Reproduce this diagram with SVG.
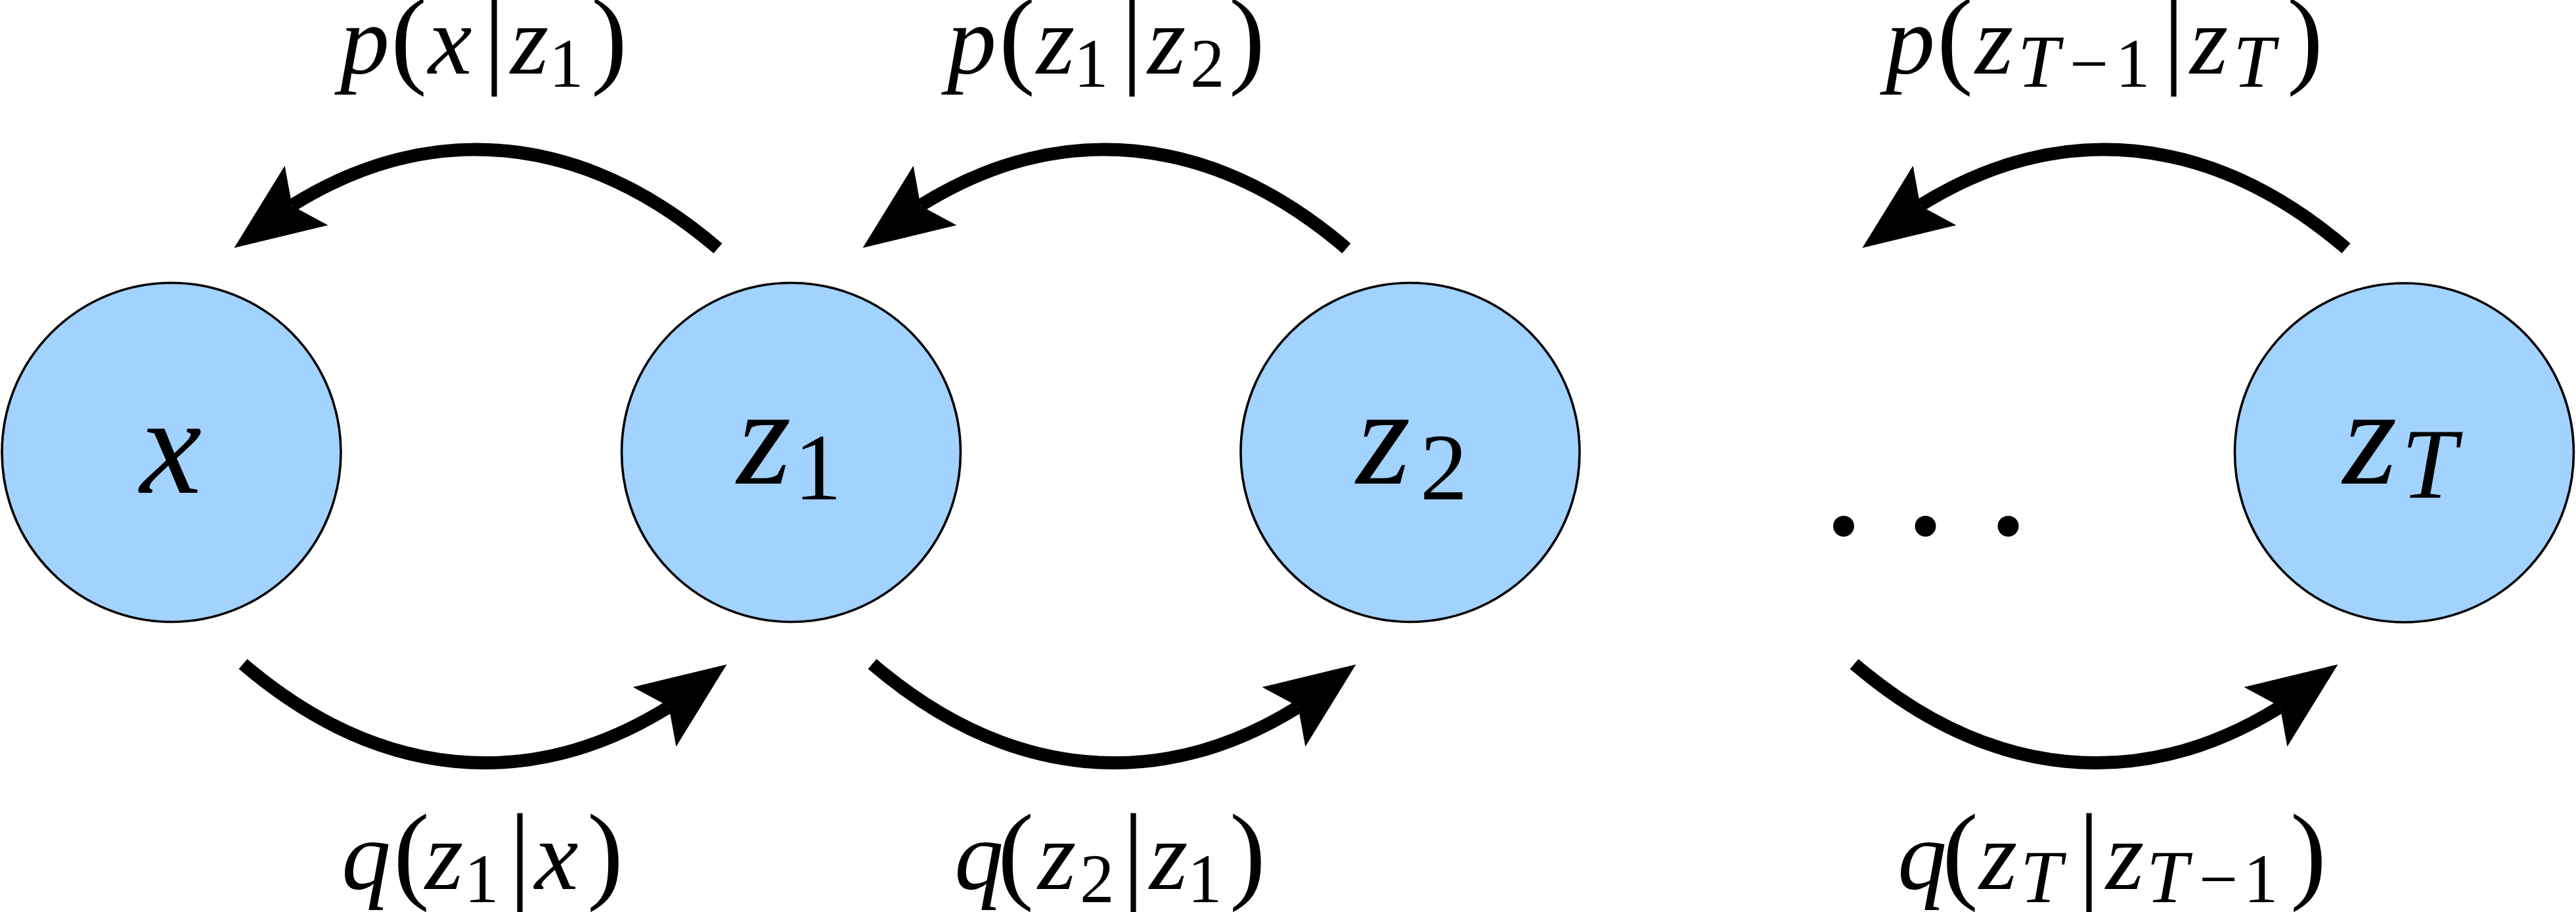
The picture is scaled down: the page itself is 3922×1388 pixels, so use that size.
<svg xmlns="http://www.w3.org/2000/svg" width="3922" height="1388" viewBox="0 0 3922 1388" font-family="Liberation Serif, serif">
<style>
.node circle{fill:#A2D2FE;stroke:#000;stroke-width:3.6}
.edge{fill:none;stroke:#000;stroke-width:20;stroke-linecap:butt}
.head{fill:#000;stroke:none}
text{font-family:"Liberation Serif",serif;fill:#000}
.i{font-style:italic}
.u{font-style:normal}
.lb{font-size:150px}
.sb{font-size:105px}
.sT{font-size:114px;font-style:italic}
.pr{font-size:165px;font-style:normal}
.nm{font-size:212px}
.ns{font-size:145px}
.nT{font-size:152px;font-style:italic}
</style>
<rect width="3922" height="1388" fill="#fff"/>

<g id="node-x" class="node">
<circle cx="261" cy="688.5" r="258"/>
<text class="nm i" x="213" y="750">x</text>
</g>
<g id="node-z1" class="node">
<circle cx="1204.5" cy="688.5" r="258"/>
<text y="736"><tspan class="nm i" x="1122">z</tspan><tspan class="ns u" x="1209" y="760">1</tspan></text>
</g>
<g id="node-z2" class="node">
<circle cx="2147" cy="688.5" r="258"/>
<text y="736"><tspan class="nm i" x="2065">z</tspan><tspan class="ns u" x="2162" y="760">2</tspan></text>
</g>
<g id="node-dots">
<text class="u" font-size="270" style="font-size:270px" y="813"><tspan x="2807" text-anchor="middle">.</tspan><tspan x="2931.5" text-anchor="middle">.</tspan><tspan x="3057.5" text-anchor="middle">.</tspan></text>
</g>
<g id="node-zT" class="node">
<circle cx="3660.5" cy="689" r="258"/>
<text y="736"><tspan class="nm i" x="3567">z</tspan><tspan class="nT" x="3656" y="758">T</tspan></text>
</g>

<g id="connectors">
<path class="edge" d="M1093,378 C887.5,202.2 656.5,180.4 444.7,312.6"/>
<polygon class="head" points="356.5,377.3 433.6,252.2 444.7,313.3 499.4,342.8"/>
<path class="edge" d="M2050,378 C1844.5,202.2 1613.5,180.4 1401.7,312.6"/>
<polygon class="head" points="1313.5,377.3 1390.6,252.2 1401.7,313.3 1456.4,342.8"/>
<path class="edge" d="M3572,378 C3366.5,202.2 3135.5,180.4 2923.7,312.6"/>
<polygon class="head" points="2835.5,377.3 2912.6,252.2 2923.7,313.3 2978.4,342.8"/>
<path class="edge" d="M370,1010.5 C575.5,1186.3 806.5,1208.1 1018.3,1075.9"/>
<polygon class="head" points="1106.5,1011.2 1029.4,1136.3 1018.3,1075.2 963.6,1045.7"/>
<path class="edge" d="M1328,1010.5 C1533.5,1186.3 1764.5,1208.1 1976.3,1075.9"/>
<polygon class="head" points="2064.5,1011.2 1987.4,1136.3 1976.3,1075.2 1921.6,1045.7"/>
<path class="edge" d="M2823,1010.5 C3028.5,1186.3 3259.5,1208.1 3471.3,1075.9"/>
<polygon class="head" points="3559.5,1011.2 3482.4,1136.3 3471.3,1075.2 3416.6,1045.7"/>
</g>

<g id="labels">
<text y="111.7"><tspan class="lb i" x="518">p</tspan><tspan class="pr" x="595">(</tspan><tspan class="lb i" x="652">x</tspan><tspan class="pr" x="736">|</tspan><tspan class="lb i" x="777">z</tspan><tspan class="sb u" x="836" y="131.7">1</tspan><tspan class="pr" x="900" y="111.7">)</tspan></text>
<text y="111.7"><tspan class="lb i" x="1442">p</tspan><tspan class="pr" x="1521">(</tspan><tspan class="lb i" x="1578">z</tspan><tspan class="sb u" x="1635" y="131.7">1</tspan><tspan class="pr" x="1707" y="111.7">|</tspan><tspan class="lb i" x="1747">z</tspan><tspan class="sb u" x="1812" y="131.7">2</tspan><tspan class="pr" x="1871" y="111.7">)</tspan></text>
<text y="111.7"><tspan class="lb i" x="2871">p</tspan><tspan class="pr" x="2949">(</tspan><tspan class="lb i" x="3007">z</tspan><tspan class="sT" x="3072" y="131.7">T</tspan><tspan class="sb u" x="3151">−</tspan><tspan class="sb u" x="3221">1</tspan><tspan class="pr" x="3293" y="111.7">|</tspan><tspan class="lb i" x="3334">z</tspan><tspan class="sT" x="3400" y="131.7">T</tspan><tspan class="pr" x="3482" y="111.7">)</tspan></text>
<text y="1353"><tspan class="lb i" x="520">q</tspan><tspan class="pr" x="599">(</tspan><tspan class="lb i" x="647">z</tspan><tspan class="sb u" x="707" y="1373">1</tspan><tspan class="pr" x="775" y="1353">|</tspan><tspan class="lb i" x="814">x</tspan><tspan class="pr" x="894">)</tspan></text>
<text y="1353"><tspan class="lb i" x="1453">q</tspan><tspan class="pr" x="1519">(</tspan><tspan class="lb i" x="1580">z</tspan><tspan class="sb u" x="1644" y="1373">2</tspan><tspan class="pr" x="1709" y="1353">|</tspan><tspan class="lb i" x="1750">z</tspan><tspan class="sb u" x="1808" y="1373">1</tspan><tspan class="pr" x="1872" y="1353">)</tspan></text>
<text y="1353"><tspan class="lb i" x="2889">q</tspan><tspan class="pr" x="2957">(</tspan><tspan class="lb i" x="3013">z</tspan><tspan class="sT" x="3076" y="1373">T</tspan><tspan class="pr" x="3164" y="1353">|</tspan><tspan class="lb i" x="3206">z</tspan><tspan class="sT" x="3268" y="1373">T</tspan><tspan class="sb u" x="3348">−</tspan><tspan class="sb u" x="3416">1</tspan><tspan class="pr" x="3487" y="1353">)</tspan></text>
</g>
</svg>
